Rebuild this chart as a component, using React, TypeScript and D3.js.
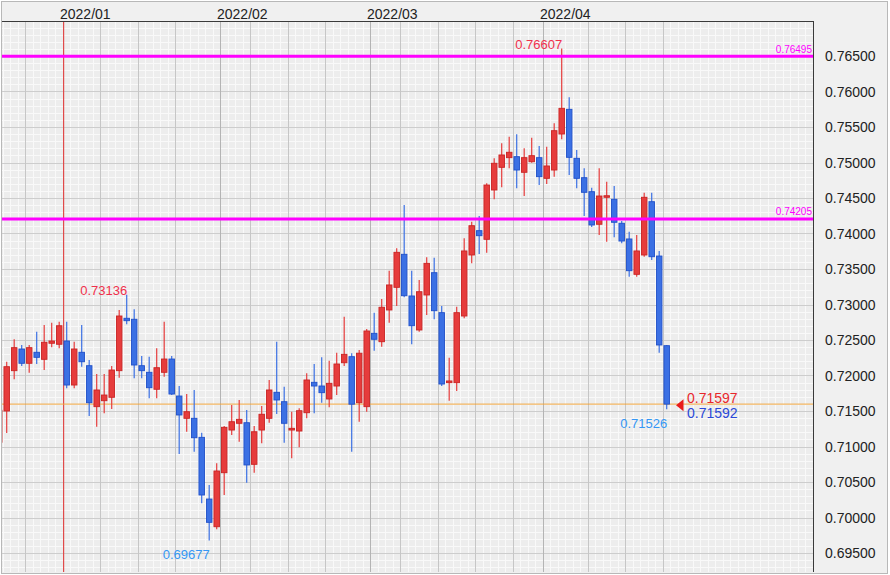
import React from "react";
import * as d3 from "d3";

// ---- data (AUD/USD daily) ----
const dates = [
  "2021-12-21","2021-12-22","2021-12-23","2021-12-24","2021-12-27","2021-12-28","2021-12-29","2021-12-30","2021-12-31",
  "2022-01-03","2022-01-04","2022-01-05","2022-01-06","2022-01-07",
  "2022-01-10","2022-01-11","2022-01-12","2022-01-13","2022-01-14",
  "2022-01-17","2022-01-18","2022-01-19","2022-01-20","2022-01-21",
  "2022-01-24","2022-01-25","2022-01-26","2022-01-27","2022-01-28",
  "2022-01-31","2022-02-01","2022-02-02","2022-02-03","2022-02-04",
  "2022-02-07","2022-02-08","2022-02-09","2022-02-10","2022-02-11",
  "2022-02-14","2022-02-15","2022-02-16","2022-02-17","2022-02-18",
  "2022-02-21","2022-02-22","2022-02-23","2022-02-24","2022-02-25",
  "2022-02-28","2022-03-01","2022-03-02","2022-03-03","2022-03-04",
  "2022-03-07","2022-03-08","2022-03-09","2022-03-10","2022-03-11",
  "2022-03-14","2022-03-15","2022-03-16","2022-03-17","2022-03-18",
  "2022-03-21","2022-03-22","2022-03-23","2022-03-24","2022-03-25",
  "2022-03-28","2022-03-29","2022-03-30","2022-03-31","2022-04-01",
  "2022-04-04","2022-04-05","2022-04-06","2022-04-07","2022-04-08",
  "2022-04-11","2022-04-12","2022-04-13","2022-04-14","2022-04-15",
  "2022-04-18","2022-04-19","2022-04-20","2022-04-21","2022-04-22",
  "2022-04-25",
];
const opens = [
  0.7106,0.7150,0.72068,0.72373,0.72172,0.72327,0.72228,0.72454,0.7244,
  0.72486,0.71866,0.72327,0.72138,0.71561,
  0.71645,0.71693,0.72068,0.72806,0.72792,
  0.72138,0.72045,0.71806,0.72045,0.72232,
  0.71711,0.71397,0.71397,0.71129,0.7026,
  0.6987,0.70631,0.71232,0.71327,0.71335,
  0.70749,0.71232,0.71397,0.71763,0.71631,
  0.71232,0.71218,0.71476,0.71904,0.71852,
  0.71669,0.71852,0.7218,0.72265,0.71617,
  0.71561,0.72594,0.72476,0.72923,0.73242,
  0.73707,0.7312,0.72641,0.73134,0.73448,
  0.72885,0.71899,0.71899,0.72838,0.73697,
  0.7404,0.73918,0.74613,0.74932,0.75068,
  0.75082,0.74862,0.75011,0.75068,0.74777,
  0.74894,0.75401,0.75749,0.75059,0.74786,
  0.74589,0.7413,0.7451,0.74482,0.74144,
  0.73923,0.73425,0.73697,0.74448,0.73683,
  0.7242,
];
const highs = [
  0.7160,0.72194,0.7251,0.7243,0.7243,0.72617,0.72711,0.72744,0.72758,
  0.72758,0.72476,0.72711,0.72218,0.72021,
  0.72021,0.72134,0.72923,0.73136,0.72932,
  0.72275,0.72265,0.72383,0.72758,0.72275,
  0.71852,0.71739,0.71796,0.71194,0.70458,
  0.70763,0.71289,0.71585,0.71655,0.71514,
  0.71289,0.7157,0.71937,0.72476,0.71842,
  0.7149,0.71538,0.72031,0.72162,0.72256,
  0.72208,0.72321,0.72828,0.72314,0.72359,
  0.72655,0.72885,0.73077,0.73476,0.73792,
  0.74401,0.73476,0.73345,0.73665,0.73659,
  0.72979,0.72251,0.7297,0.73932,0.74166,
  0.74246,0.74707,0.7506,0.7527,0.75363,
  0.75397,0.752,0.75349,0.75232,0.75223,
  0.75552,0.76607,0.75918,0.75176,0.74918,
  0.74645,0.74918,0.7473,0.74669,0.74176,
  0.74025,0.73979,0.74575,0.74575,0.73754,
  0.7243,
];
const lows = [
  0.7100,0.7119,0.71946,0.72134,0.7204,0.72162,0.72077,0.72397,0.72383,
  0.7182,0.7182,0.72124,0.7143,0.71279,
  0.71468,0.71528,0.71969,0.72721,0.7196,
  0.7196,0.71679,0.71679,0.71984,0.71725,
  0.70894,0.71208,0.70927,0.702,0.69677,
  0.69834,0.70317,0.71162,0.71068,0.7049,
  0.70631,0.71045,0.71335,0.71458,0.71054,
  0.70834,0.70989,0.71397,0.71468,0.71617,
  0.71552,0.71725,0.72134,0.70927,0.7135,
  0.7149,0.7235,0.72406,0.72744,0.72979,
  0.73101,0.72439,0.72617,0.72852,0.72792,
  0.71852,0.71645,0.71782,0.72806,0.7358,
  0.73711,0.7373,0.74482,0.7465,0.74918,
  0.74637,0.74528,0.74997,0.74683,0.74697,
  0.748,0.75327,0.74824,0.74637,0.74246,
  0.74092,0.73979,0.73885,0.73946,0.73862,
  0.73392,0.73392,0.73673,0.73627,0.72321,
  0.71526,
];
const closes = [
  0.7151,0.72124,0.72392,0.72172,0.72392,0.72256,0.72468,0.72486,0.72701,
  0.71866,0.72373,0.72194,0.71617,0.71796,
  0.71725,0.72077,0.72838,0.72772,0.72148,
  0.72068,0.71828,0.7211,0.72232,0.71739,
  0.71444,0.7149,0.71124,0.70317,0.69932,
  0.70655,0.7127,0.71349,0.71383,0.7074,
  0.71208,0.71454,0.71796,0.71655,0.71327,
  0.71256,0.71504,0.71937,0.71852,0.71758,
  0.7189,0.72162,0.72298,0.71596,0.72314,
  0.72627,0.7251,0.72961,0.73275,0.73735,
  0.73124,0.72701,0.7318,0.7358,0.72913,
  0.7188,0.71923,0.72885,0.73754,0.7411,
  0.73969,0.74683,0.74989,0.75106,0.75144,
  0.74894,0.75068,0.75096,0.748,0.74951,
  0.75448,0.75763,0.75073,0.74777,0.7458,
  0.7412,0.74528,0.74532,0.74158,0.73894,
  0.73476,0.73754,0.7451,0.73673,0.7243,
  0.71597,
];
const yTicks = [0.695,0.70,0.705,0.71,0.715,0.72,0.725,0.73,0.735,0.74,0.745,0.75,0.755,0.76,0.765];
const levelLines = [0.76495, 0.74205];
const bidPrice = 0.71597;
const askPrice = 0.71592;
const highLabels = [{ date: "2022-04-05", value: 0.76607 }, { date: "2022-01-13", value: 0.73136 }];
const lowLabels = [{ date: "2022-01-28", value: 0.69677 }, { date: "2022-04-25", value: 0.71526 }];

const W = 890, H = 575;
const PL = 2, PT = 22, PR = 813, PB = 572;
const RED = "#e63c3c", RED_D = "#c92424";
const BLUE = "#3b70e4", BLUE_D = "#2150c8";

export default function App() {
  const parse = d3.timeParse("%Y-%m-%d");
  const fmt = d3.timeFormat("%Y/%m");
  const dts = dates.map((d) => parse(d) as Date);
  const x = d3.scaleLinear().domain([0, 1]).range([-0.8, 6.7]);
  const step = x(1) - x(0);
  const y = d3.scaleLinear().domain([0.695, 0.765]).range([553, 56]);
  const bw = 5.5;

  // month/week separators
  const monthIdx: number[] = [];
  const weekIdx: number[] = [];
  for (let i = 1; i < dts.length; i++) {
    if (dates[i].slice(5, 7) !== dates[i - 1].slice(5, 7)) monthIdx.push(i);
    if (dts[i].getDay() < dts[i - 1].getDay()) weekIdx.push(i);
  }
  const weekLines = weekIdx.filter((w) => !monthIdx.some((m) => Math.abs(m - w) <= 3));
  const yearIdx = monthIdx.filter((i) => dates[i].slice(0, 4) !== dates[i - 1].slice(0, 4));
  const plainMonthIdx = monthIdx.filter((i) => !yearIdx.includes(i));

  const nSlots = Math.ceil((PR - x(0)) / step) + 2;
  const fineV = d3.range(-1, nSlots).map((k) => Math.round(x(k) - step / 2) + 0.5);
  const fineH = d3.range(6920, 7700, 10).map((v) => Math.round(y(v / 10000)) + 0.5);
  const idxOf = (d: string) => dates.indexOf(d);
  const sepX = (i: number) => Math.round(x(i) - step / 2) + 0.5;

  const font = "'Liberation Sans', Arial, sans-serif";

  return (
    <div style={{ position: "absolute", left: 0, top: 0, width: W, height: H }}>
      <svg width={W} height={H} style={{ display: "block" }}>
        <defs>
          <clipPath id="plotClip">
            <rect x={PL} y={PT} width={PR - PL} height={PB - PT} />
          </clipPath>
        </defs>
        <rect x={0} y={0} width={W} height={H} fill="#ffffff" />
        <rect x={1.5} y={1.5} width={886} height={572} fill="#f0f0f0" stroke="#b8b8b8" />
        <rect x={PL} y={PT} width={PR - PL} height={PB - PT} fill="#ededed" />
        <g clipPath="url(#plotClip)">
          {fineV.map((v, k) => (
            <line key={"fv" + k} x1={v} x2={v} y1={PT} y2={PB} stroke="#f9f9f9" strokeWidth={1} shapeRendering="crispEdges" />
          ))}
          {fineH.map((v, k) => (
            <line key={"fh" + k} x1={PL} x2={PR} y1={v} y2={v} stroke="#f9f9f9" strokeWidth={1} shapeRendering="crispEdges" />
          ))}
          {yTicks.map((t) => (
            <line key={"mh" + t} x1={PL} x2={PR} y1={Math.round(y(t)) + 0.5} y2={Math.round(y(t)) + 0.5} stroke="#cdcdcd" shapeRendering="crispEdges" />
          ))}
          {weekLines.map((i) => (
            <line key={"w" + i} x1={sepX(i)} x2={sepX(i)} y1={PT} y2={PB} stroke="#c6c6c6" shapeRendering="crispEdges" />
          ))}
          {plainMonthIdx.map((i) => (
            <line key={"m" + i} x1={sepX(i)} x2={sepX(i)} y1={PT} y2={PB} stroke="#b4b4b4" shapeRendering="crispEdges" />
          ))}
          {yearIdx.map((i) => (
            <rect key={"yr" + i} x={sepX(i) - 0.5} y={PT} width={1.2} height={PB - PT} fill="#e04a4a" />
          ))}
          <line x1={PL} x2={PR} y1={y(bidPrice)} y2={y(bidPrice)} stroke="#f0a43c" strokeWidth={1} />
          {dates.map((d, i) => {
            const up = closes[i] >= opens[i];
            const xc = x(i);
            const top = y(Math.max(opens[i], closes[i]));
            const bot = y(Math.min(opens[i], closes[i]));
            const h = Math.max(1.5, bot - top);
            return (
              <g key={d}>
                <line x1={xc} x2={xc} y1={y(highs[i])} y2={y(lows[i])} stroke={up ? RED : BLUE} strokeWidth={1.2} />
                <rect x={xc - bw / 2} y={top} width={bw} height={h} fill={up ? RED : BLUE} stroke={up ? RED_D : BLUE_D} strokeWidth={0.9} />
              </g>
            );
          })}
          {levelLines.map((l) => (
            <line key={"lv" + l} x1={PL} x2={PR} y1={y(l)} y2={y(l)} stroke="#ff00ff" strokeWidth={3} />
          ))}
        </g>
        {levelLines.map((l) => (
          <text key={"lt" + l} x={PR - 1} y={y(l) - 3.5} textAnchor="end" fontFamily={font} fontSize={10} fill="#ff00ff">
            {l.toFixed(5)}
          </text>
        ))}
        {highLabels.map((h) => (
          <text key={"hl" + h.date} x={x(idxOf(h.date)) + 0.5} y={y(h.value) + 0.5} textAnchor="end" fontFamily={font} fontSize={13} fill="#f0304c">
            {h.value.toFixed(5)}
          </text>
        ))}
        {lowLabels.map((h) => (
          <text key={"ll" + h.date} x={x(idxOf(h.date)) + 0.5} y={y(h.value) + 18.5} textAnchor="end" fontFamily={font} fontSize={13} fill="#3497f5">
            {h.value.toFixed(5)}
          </text>
        ))}
        <path
          d={`M${676},${y(bidPrice) + 1.2} L${683.5},${y(bidPrice) - 4.8} L${683.5},${y(bidPrice) + 7.2} Z`}
          fill="#e81c1c"
        />
        <text x={687} y={y(bidPrice) - 1.5} fontFamily={font} fontSize={14} fill="#e8282c">{bidPrice.toFixed(5)}</text>
        <text x={687} y={y(askPrice) + 14} fontFamily={font} fontSize={14} fill="#2a48d8">{askPrice.toFixed(5)}</text>
        {/* plot border */}
        <line x1={PL} x2={PR + 0.5} y1={PT - 0.5} y2={PT - 0.5} stroke="#3a3a3a" strokeWidth={1} />
        <line x1={PR + 0.5} x2={PR + 0.5} y1={PT - 1} y2={PB} stroke="#3a3a3a" strokeWidth={1} />
        {/* month labels */}
        {monthIdx.map((i) => (
          <text key={"ml" + i} x={Math.round(x(i) - step / 2) - 3} y={18.5} fontFamily={font} fontSize={14} fill="#222">
            {fmt(dts[i])}
          </text>
        ))}
        {/* right axis labels */}
        {yTicks.map((t) => (
          <text key={"yt" + t} x={825} y={y(t)} dy="0.36em" fontFamily={font} fontSize={14} fill="#222">
            {t.toFixed(5)}
          </text>
        ))}
      </svg>
    </div>
  );
}
